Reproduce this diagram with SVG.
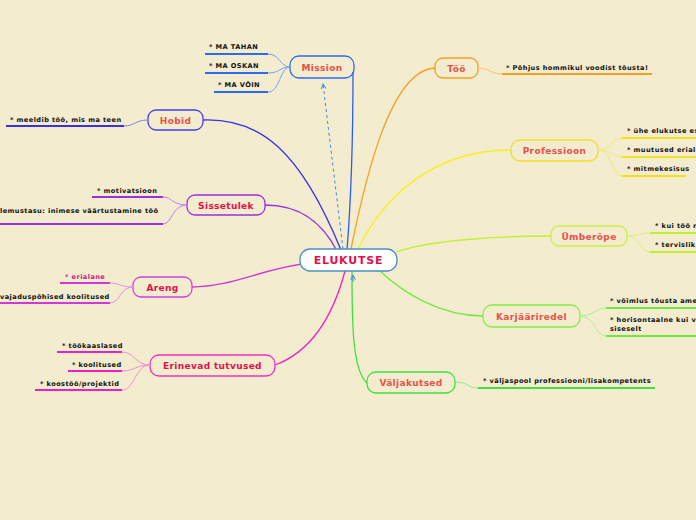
<svg xmlns="http://www.w3.org/2000/svg" width="696" height="520" viewBox="0 0 696 520">
<defs>
<marker id="arr" viewBox="0 0 10 10" refX="9" refY="5" markerWidth="6" markerHeight="6" orient="auto"><path d="M1,1 L9,5 L1,9" fill="none" stroke="#3a8ae0" stroke-width="1.6"/></marker>
</defs>
<style>
.node rect{fill:none;stroke-width:1.3}
.t{font-family:"DejaVu Sans",Verdana,sans-serif;font-weight:bold;font-size:9px;letter-spacing:0.35px;text-anchor:middle;fill:#e8524a}
.tc{fill:#e3104c}
.c{font-family:"DejaVu Sans",Verdana,sans-serif;font-weight:bold;font-size:6.6px;letter-spacing:0.42px;fill:#111}
.ul{fill:none;stroke-width:2}
.lk{fill:none;stroke-width:1}
.br{fill:none;stroke-width:1.3}
</style>
<rect width="696" height="520" fill="#f3ecce"/>
<g id="connectors">
<path class="br" stroke="#2a5ef0" d="M353,72 C353,150 351,200 347,250"/>
<path class="br" stroke="#3a30e8" d="M203,120 C260,118 300,150 341,250"/>
<path class="br" stroke="#9a30e0" d="M265,205 C300,205 322,222 337,251"/>
<path class="br" stroke="#d038d8" d="M192,287 C230,287 260,270 302,264"/>
<path class="br" stroke="#f020c0" d="M275,365 C310,352 332,320 345,271"/>
<path class="br" stroke="#f5a020" d="M435,68 C390,70 365,180 351,249"/>
<path class="br" stroke="#f5f020" d="M511,150 C430,150 382,200 358,249"/>
<path class="br" stroke="#c0f030" d="M551,236 C500,236 430,240 396,252"/>
<path class="br" stroke="#70e840" d="M483,316 C440,316 402,292 380,271"/>
<path class="br" stroke="#40e040" d="M367,383 C352,370 352,320 352,271"/>
<path fill="none" stroke="#3a8ae0" stroke-width="1" stroke-dasharray="3,3" d="M343,249 L323,84" marker-end="url(#arr)"/>
<path fill="none" stroke="#3a8ae0" stroke-width="1" d="M353,282 L353,275" marker-end="url(#arr)"/>
</g>
<g id="center" class="node">
<rect x="300" y="249" width="97" height="22" rx="10" style="fill:#fff" stroke="#4a90c8"/>
<text x="348.5" y="264" class="t tc" style="font-size:11px;letter-spacing:0.8px">ELUKUTSE</text>
</g>
<g id="mission" class="node">
<rect x="290" y="56" width="64" height="22" rx="9" stroke="#2a6cf0"/>
<text x="322" y="70.5" class="t">Mission</text>
<path class="ul" stroke="#2a6cf0" d="M205,54 L268,54 M205,73 L268,73 M214,92 L268,92"/>
<path class="lk" stroke="#7aa0f0" d="M268,54 C280,54 280,67 290,67 M268,73 C280,73 280,67 290,67 M268,92 C280,92 280,67 290,67"/>
<text x="209" y="49" class="c">* MA TAHAN</text>
<text x="209" y="68" class="c">* MA OSKAN</text>
<text x="218" y="87" class="c">* MA VÕIN</text>
</g>
<g id="hobid" class="node">
<rect x="148" y="110" width="55" height="20" rx="8" stroke="#4b3cf0"/>
<text x="175.5" y="123.5" class="t">Hobid</text>
<path class="ul" stroke="#3a30e8" d="M6,126 L124,126"/>
<path class="lk" stroke="#8a80f0" d="M124,126 C135,126 135,120 148,120"/>
<text x="10" y="122" class="c">* meeldib töö, mis ma teen</text>
</g>
<g id="sissetulek" class="node">
<rect x="187" y="195" width="78" height="20" rx="8" stroke="#9a30e0"/>
<text x="226" y="208.5" class="t tc">Sissetulek</text>
<path class="ul" stroke="#9a30e0" d="M92,197 L163,197 M0,224 L163,224"/>
<path class="lk" stroke="#c080f0" d="M163,197 C172,197 172,205 187,205 M163,224 C172,224 172,205 187,205"/>
<text x="97" y="193" class="c">* motivatsioon</text>
<text x="0" y="213" class="c">lemustasu: inimese väärtustamine töö</text>
</g>
<g id="areng" class="node">
<rect x="133" y="277" width="59" height="20" rx="8" stroke="#d040e0"/>
<text x="162.5" y="290.5" class="t tc">Areng</text>
<path class="ul" stroke="#d038d8" d="M60,283 L110,283 M0,303 L110,303"/>
<path class="lk" stroke="#e090e8" d="M110,283 C120,283 120,287 133,287 M110,303 C120,303 120,287 133,287"/>
<text x="65" y="279" class="c" style="fill:#d0208a">*  erialane</text>
<text x="0" y="299" class="c">vajaduspõhised koolitused</text>
</g>
<g id="tutvused" class="node">
<rect x="150" y="355" width="125" height="21" rx="9" stroke="#f030c0"/>
<text x="212.5" y="369" class="t tc">Erinevad tutvused</text>
<path class="ul" stroke="#f020c0" d="M57,352 L122,352 M68,371 L122,371 M35,390 L122,390"/>
<path class="lk" stroke="#f090d8" d="M122,352 C135,352 135,365 150,365 M122,371 C135,371 135,365 150,365 M122,390 C135,390 135,365 150,365"/>
<text x="62" y="348" class="c">* töökaaslased</text>
<text x="72" y="367" class="c">*  koolitused</text>
<text x="40" y="386" class="c">* koostöö/projektid</text>
</g>
<g id="too" class="node">
<rect x="435" y="58" width="43" height="20" rx="8" stroke="#f5a020"/>
<text x="456.5" y="71.5" class="t">Töö</text>
<path class="ul" stroke="#f5a020" d="M502,74 L652,74"/>
<path class="lk" stroke="#f5c870" d="M478,68 C490,68 490,74 502,74"/>
<text x="506" y="70" class="c">*  Põhjus hommikul voodist tõusta!</text>
</g>
<g id="professioon" class="node">
<rect x="511" y="140" width="87" height="21" rx="9" stroke="#f0e020"/>
<text x="554.5" y="154" class="t">Professioon</text>
<path class="ul" stroke="#f0e020" d="M622,138 L700,138 M622,157 L700,157 M622,176 L686,176"/>
<path class="lk" stroke="#f0ea70" d="M598,150 C612,150 612,138 622,138 M598,150 C612,150 612,157 622,157 M598,150 C612,150 612,176 622,176"/>
<text x="627" y="133" class="c">* ühe elukutse es</text>
<text x="627" y="152" class="c">* muutused eriala</text>
<text x="627" y="171" class="c">* mitmekesisus</text>
</g>
<g id="umberope" class="node">
<rect x="551" y="226" width="76" height="20" rx="8" stroke="#c8f040"/>
<text x="589" y="239.5" class="t">Ümberõpe</text>
<path class="ul" stroke="#c0f030" d="M650,233 L700,233 M650,252 L700,252"/>
<path class="lk" stroke="#d8f080" d="M627,236 C640,236 640,233 650,233 M627,236 C640,236 640,252 650,252"/>
<text x="655" y="228" class="c">* kui töö n</text>
<text x="655" y="247" class="c">* tervislik</text>
</g>
<g id="karjaariredel" class="node">
<rect x="483" y="305" width="97" height="22" rx="9" stroke="#80f040"/>
<text x="531.5" y="319.5" class="t">Karjääriredel</text>
<path class="ul" stroke="#70e840" d="M606,308 L700,308 M606,336 L700,336"/>
<path class="lk" stroke="#b0f090" d="M580,316 C595,316 595,308 606,308 M580,316 C595,316 595,336 606,336"/>
<text x="610" y="303" class="c">* võimlus tõusta ame</text>
<text x="610" y="322" class="c">* horisontaalne kui ve</text>
<text x="610" y="331" class="c">siseselt</text>
</g>
<g id="valjakutsed" class="node">
<rect x="367" y="372" width="88" height="21" rx="9" stroke="#40e040"/>
<text x="411" y="386" class="t">Väljakutsed</text>
<path class="ul" stroke="#40e040" d="M478,388 L655,388"/>
<path class="lk" stroke="#90e890" d="M455,382 C468,382 468,388 478,388"/>
<text x="483" y="383" class="c">*  väljaspool professiooni/lisakompetents</text>
</g>
</svg>
